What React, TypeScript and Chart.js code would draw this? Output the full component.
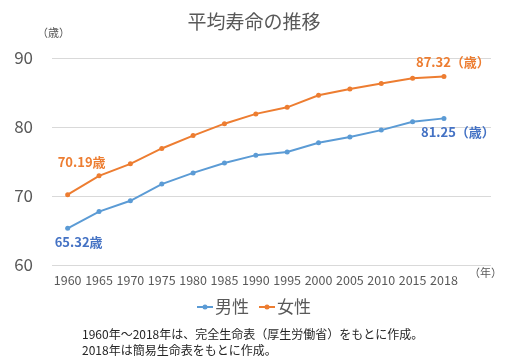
import React, { useEffect, useRef } from "react";
import { Chart, registerables } from "chart.js";

Chart.register(...registerables);

const years = ["1960", "1965", "1970", "1975", "1980", "1985", "1990", "1995", "2000", "2005", "2010", "2015", "2018"];
const male = [65.32, 67.74, 69.31, 71.73, 73.35, 74.78, 75.92, 76.38, 77.72, 78.56, 79.55, 80.75, 81.25];
const female = [70.19, 72.92, 74.66, 76.89, 78.76, 80.48, 81.9, 82.85, 84.6, 85.52, 86.3, 87.05, 87.32];
const yMin = 60;
const yMax = 90;
const yStep = 10;

const title = "平均寿命の推移";
const yUnit = "（歳）";
const xUnit = "（年）";
const seriesNames = ["男性", "女性"];
const footnotes = ["1960年～2018年は、完全生命表（厚生労働省）をもとに作成。", "2018年は簡易生命表をもとに作成。"];

const BLUE = "#5b9bd5";
const BLUE_TEXT = "#4472c4";
const ORANGE = "#ed7d31";
const GRAY = "#595959";
const FONT = '"Noto Sans CJK JP", "Noto Sans", sans-serif';

const textPlugin = {
  id: "texts",
  afterDraw(chart: any) {
    const ctx = chart.ctx as CanvasRenderingContext2D;
    const xs = chart.scales.x;
    const ys = chart.scales.y;
    ctx.save();
    ctx.textBaseline = "middle";

    // title
    ctx.fillStyle = GRAY;
    ctx.font = `19px ${FONT}`;
    ctx.textAlign = "center";
    ctx.fillText(title, 254, 22);

    // y unit
    ctx.font = `11px ${FONT}`;
    ctx.textAlign = "left";
    ctx.fillText(yUnit, 37, 33);

    // x unit
    ctx.font = `11px ${FONT}`;
    ctx.fillText(xUnit, 469, 273);

    // annotations
    const last = years.length - 1;
    ctx.font = `bold 13px ${FONT}`;
    ctx.textAlign = "left";
    ctx.fillStyle = ORANGE;
    ctx.fillText(`${female[0].toFixed(2)}歳`, xs.getPixelForValue(0) - 10, ys.getPixelForValue(female[0]) - 33);
    ctx.fillText(`${female[last].toFixed(2)}（歳）`, xs.getPixelForValue(last) - 28, ys.getPixelForValue(female[last]) - 14);
    ctx.fillStyle = BLUE_TEXT;
    ctx.fillText(`${male[0].toFixed(2)}歳`, xs.getPixelForValue(0) - 13, ys.getPixelForValue(male[0]) + 14);
    ctx.fillText(`${male[last].toFixed(2)}（歳）`, xs.getPixelForValue(last) - 23, ys.getPixelForValue(male[last]) + 14);

    // legend
    const ly = 307;
    const items = [
      { name: seriesNames[0], color: BLUE, x: 197 },
      { name: seriesNames[1], color: ORANGE, x: 259 },
    ];
    ctx.font = `17px ${FONT}`;
    for (const it of items) {
      ctx.strokeStyle = it.color;
      ctx.lineWidth = 2;
      ctx.beginPath();
      ctx.moveTo(it.x, ly);
      ctx.lineTo(it.x + 16, ly);
      ctx.stroke();
      ctx.fillStyle = it.color;
      ctx.beginPath();
      ctx.arc(it.x + 8, ly, 2.5, 0, Math.PI * 2);
      ctx.fill();
      ctx.fillStyle = GRAY;
      ctx.fillText(it.name, it.x + 18, ly);
    }

    // footnotes
    ctx.fillStyle = "#262626";
    ctx.font = `12px ${FONT}`;
    ctx.fillText(footnotes[0], 82, 334);
    ctx.fillText(footnotes[1], 82, 350);
    ctx.restore();
  },
};

export default function App() {
  const ref = useRef<HTMLCanvasElement>(null);
  useEffect(() => {
    if (!ref.current) return;
    const chart = new Chart(ref.current, {
      type: "line",
      data: {
        labels: [...years, ""],
        datasets: [
          {
            label: seriesNames[0],
            data: [...male, null],
            borderColor: BLUE,
            backgroundColor: BLUE,
            borderWidth: 2,
            pointRadius: 2.5,
            pointBorderWidth: 0,
          },
          {
            label: seriesNames[1],
            data: [...female, null],
            borderColor: ORANGE,
            backgroundColor: ORANGE,
            borderWidth: 2,
            pointRadius: 2.5,
            pointBorderWidth: 0,
          },
        ],
      },
      options: {
        responsive: false,
        animation: false,
        layout: { padding: { top: 58, right: 21, bottom: 66, left: 0 } },
        plugins: { legend: { display: false }, title: { display: false }, tooltip: { enabled: false } },
        scales: {
          x: {
            offset: true,
            grid: { display: false, drawTicks: false },
            border: { display: false },
            ticks: { color: GRAY, font: { family: FONT, size: 12.5 }, padding: 8, maxRotation: 0, autoSkip: false },
            afterFit: (s: any) => {
              s.height = 30;
            },
          },
          y: {
            min: yMin,
            max: yMax,
            ticks: { stepSize: yStep, color: GRAY, font: { family: FONT, size: 17 }, padding: 19 },
            grid: { color: "#d9d9d9", drawTicks: false },
            border: { display: false },
            afterFit: (s: any) => {
              s.width = 52;
            },
          },
        },
      },
      plugins: [textPlugin],
    });
    return () => chart.destroy();
  }, []);
  return (
    <div style={{ position: "fixed", left: 0, top: 0, width: 512, height: 361, background: "#fff" }}>
      <canvas ref={ref} width={512} height={361} />
    </div>
  );
}
